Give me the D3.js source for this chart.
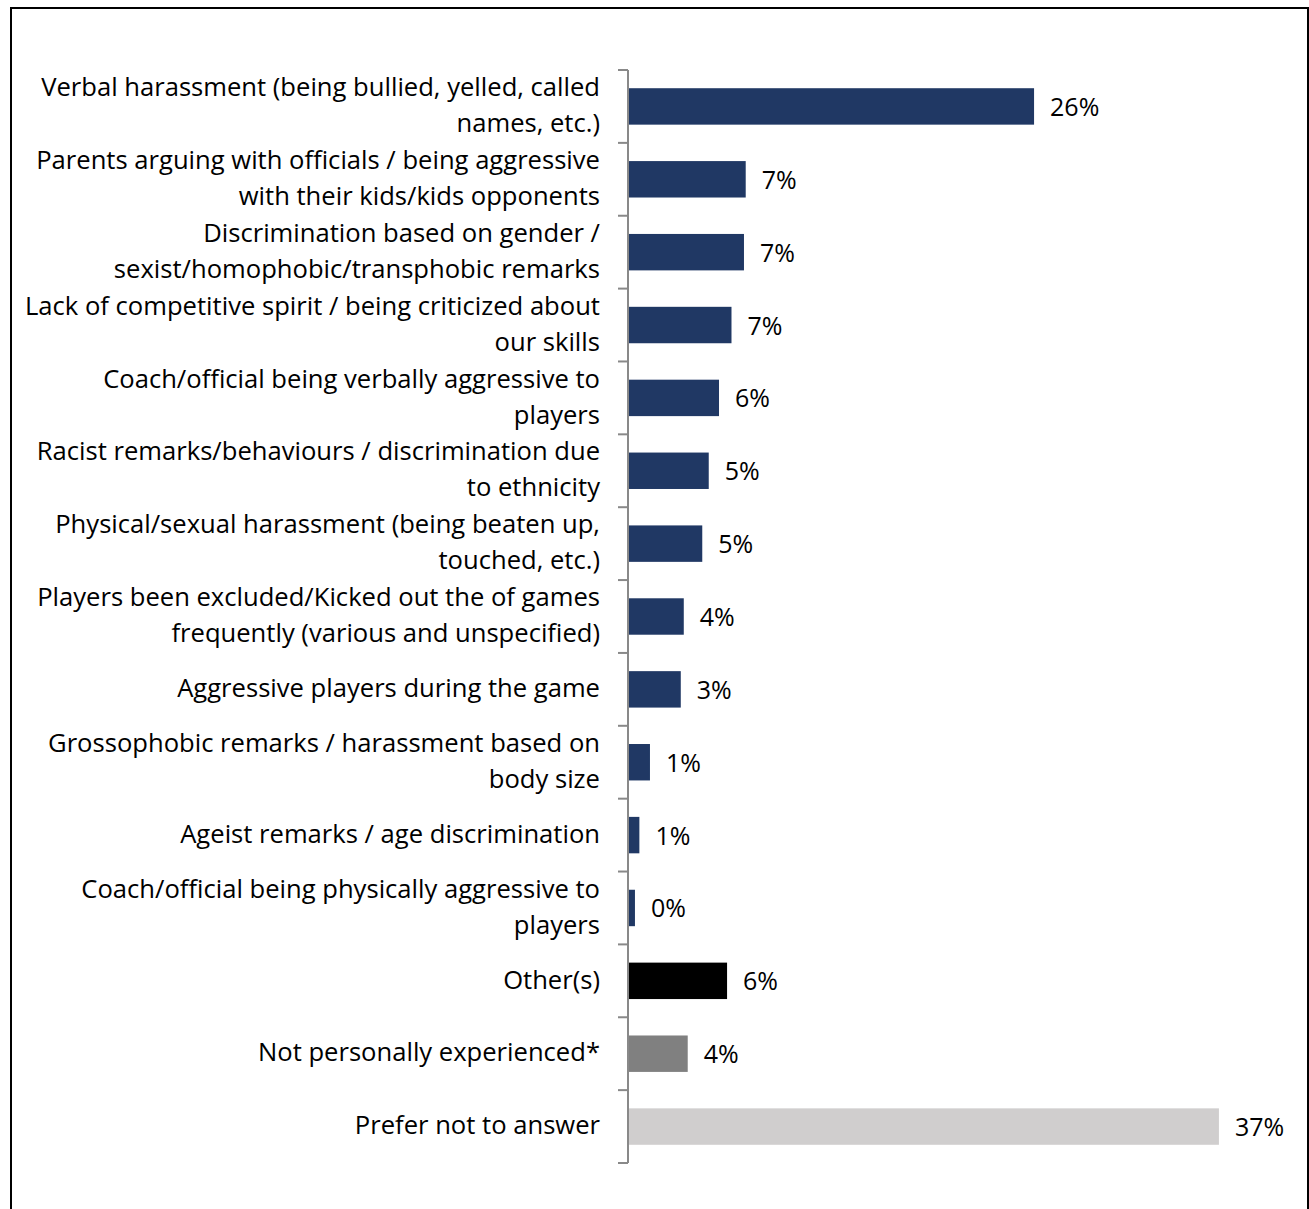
<!DOCTYPE html>
<html>
<head>
<meta charset="utf-8">
<script src="https://cdn.jsdelivr.net/npm/d3@7/dist/d3.min.js"></script>
<style>
  html, body { margin: 0; padding: 0; background: #fff; }
  svg { display: block; }
  text { font-family: "Open Sans", Lato, sans-serif; fill: #000; }
</style>
</head>
<body>
<svg id="chart" width="1309" height="1209"></svg>
<script>
// Reported negative experiences (share of respondents, %)
const categories = [
  "Verbal harassment (being bullied, yelled, called\nnames, etc.)",
  "Parents arguing with officials / being aggressive\nwith their kids/kids opponents",
  "Discrimination based on gender /\nsexist/homophobic/transphobic remarks",
  "Lack of competitive spirit / being criticized about\nour skills",
  "Coach/official being verbally aggressive to\nplayers",
  "Racist remarks/behaviours / discrimination due\nto ethnicity",
  "Physical/sexual harassment (being beaten up,\ntouched, etc.)",
  "Players been excluded/Kicked out the of games\nfrequently (various and unspecified)",
  "Aggressive players during the game",
  "Grossophobic remarks / harassment based on\nbody size",
  "Ageist remarks / age discrimination",
  "Coach/official being physically aggressive to\nplayers",
  "Other(s)",
  "Not personally experienced*",
  "Prefer not to answer"
];
const values = [25.7, 7.45, 7.34, 6.55, 5.76, 5.11, 4.70, 3.53, 3.34, 1.39, 0.72, 0.44, 6.27, 3.78, 37.4];
const groups = ["exp","exp","exp","exp","exp","exp","exp","exp","exp","exp","exp","exp","other","none","refused"];
const groupColors = { exp: "#203864", other: "#000000", none: "#808080", refused: "#d0cece" };

const svg = d3.select("#chart");

// outer frame
svg.append("rect")
  .attr("x", 11).attr("y", 8)
  .attr("width", 1297).attr("height", 1240)
  .attr("fill", "none").attr("stroke", "#000").attr("stroke-width", 2);

const x = d3.scaleLinear().domain([0, 40]).range([628, 1260]);
const y = d3.scaleBand().domain(d3.range(categories.length)).range([70, 1163]).paddingInner(0.5).paddingOuter(0.25);
const band = d3.scaleBand().domain(d3.range(categories.length)).range([70, 1163]);

// bars
svg.append("g").selectAll("rect")
  .data(values)
  .join("rect")
  .attr("x", x(0))
  .attr("y", (d, i) => y(i))
  .attr("width", d => x(d) - x(0))
  .attr("height", y.bandwidth())
  .attr("fill", (d, i) => groupColors[groups[i]]);

// value labels
const fmt = d => Math.round(d) + "%";
svg.append("g").selectAll("text")
  .data(values)
  .join("text")
  .attr("x", d => x(d) + 16)
  .attr("y", (d, i) => y(i) + y.bandwidth() / 2)
  .attr("dy", "0.38em")
  .attr("font-size", 25)
  .text(fmt);

// category axis: vertical line with ticks at band boundaries
const axisG = svg.append("g").attr("stroke", "#898989").attr("stroke-width", 2);
axisG.append("line")
  .attr("x1", x(0)).attr("x2", x(0))
  .attr("y1", band.range()[0]).attr("y2", band.range()[1]);
const bounds = d3.range(categories.length + 1).map(i => i < categories.length ? band(i) : band.range()[1]);
axisG.selectAll("line.tick")
  .data(bounds)
  .join("line")
  .attr("class", "tick")
  .attr("x1", x(0) - 10).attr("x2", x(0))
  .attr("y1", d => d).attr("y2", d => d);

// category labels, right-aligned, wrapped at "\n"
const lineH = 36;
const labels = svg.append("g").selectAll("text")
  .data(categories)
  .join("text")
  .attr("text-anchor", "end")
  .attr("font-size", 25.6)
  .attr("transform", (d, i) => `translate(600,${band(i) + band.bandwidth() / 2})`);
labels.each(function(d) {
  const lines = d.split("\n");
  const t = d3.select(this);
  lines.forEach((ln, k) => {
    t.append("tspan")
      .attr("x", 0)
      .attr("y", (k - (lines.length - 1) / 2) * lineH)
      .attr("dy", "0.3em")
      .text(ln);
  });
});
</script>
</body>
</html>
